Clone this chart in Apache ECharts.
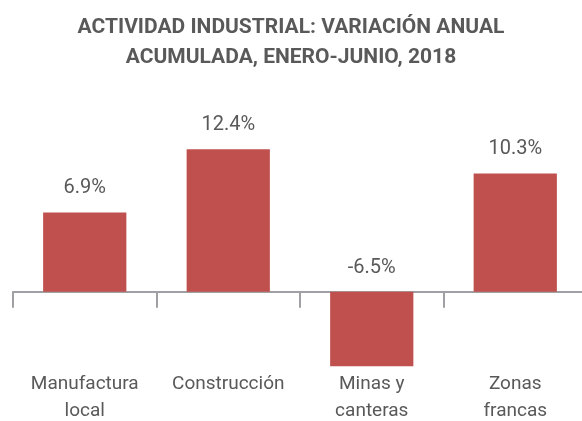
<!DOCTYPE html>
<html>
<head>
<meta charset="utf-8">
<script src="https://cdn.jsdelivr.net/npm/echarts@6/dist/echarts.min.js"></script>
<style>
  html, body { margin: 0; padding: 0; background: #fff; }
  #chart { width: 582px; height: 421px; }
</style>
</head>
<body>
<div id="chart"></div>
<script>
// categorias y valores (variación %)
const categories = ['Manufactura\nlocal', 'Construcción', 'Minas y\ncanteras', 'Zonas\nfrancas'];
const values = [6.9, 12.4, -6.5, 10.3];

const FONT = '"Roboto", sans-serif';

const chart = echarts.init(document.getElementById('chart'));

const option = {
  animation: false,
  title: {
    text: 'ACTIVIDAD INDUSTRIAL: VARIACIÓN ANUAL\nACUMULADA, ENERO-JUNIO, 2018',
    left: 'center',
    top: 8,
    textStyle: {
      fontFamily: FONT,
      fontSize: 21,
      fontWeight: 'bold',
      color: '#595959',
      lineHeight: 30
    }
  },
  grid: { left: 13, right: -5, top: 131, bottom: 49, outerBoundsMode: 'none', containLabel: false },
  xAxis: [
    {
      // eje en cero con marcas
      type: 'category',
      data: categories,
      axisLine: { onZero: true, lineStyle: { color: '#a0a0a4', width: 2 } },
      axisTick: { show: true, length: 16, lineStyle: { color: '#a0a0a4', width: 2 } },
      axisLabel: { show: false }
    },
    {
      // etiquetas abajo
      type: 'category',
      data: categories,
      position: 'bottom',
      axisLine: { show: false },
      axisTick: { show: false },
      axisLabel: {
        interval: 0,
        margin: -1,
        fontFamily: FONT,
        fontSize: 19,
        lineHeight: 27,
        color: '#595959'
      }
    }
  ],
  yAxis: {
    type: 'value',
    min: -7,
    max: 14,
    show: false
  },
  series: [{
    type: 'bar',
    data: values,
    barWidth: '58%',
    itemStyle: { color: '#c0504d' },
    label: {
      show: true,
      position: 'top',
      distance: 14,
      fontFamily: FONT,
      fontSize: 20,
      color: '#595959',
      formatter: p => p.value.toFixed(1) + '%'
    }
  }]
};

chart.setOption(option);
</script>
</body>
</html>
